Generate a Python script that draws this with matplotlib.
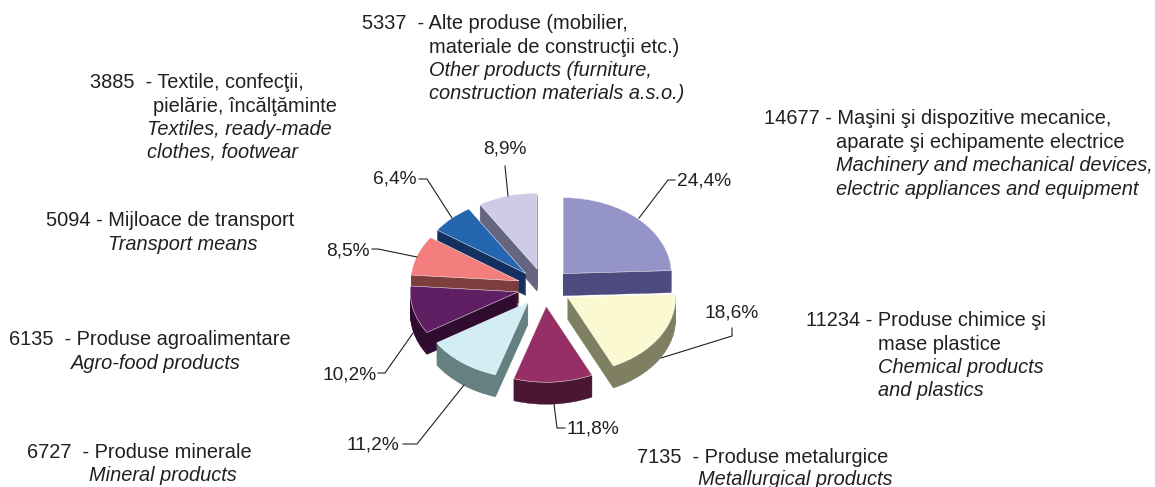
import matplotlib
matplotlib.use("Agg")
import matplotlib.pyplot as plt

values = [14677, 11234, 7135, 6727, 6135, 5094, 3885, 5337]
percents = ["24,4%", "18,6%", "11,8%", "11,2%", "10,2%", "8,5%", "6,4%", "8,9%"]
top_colors = ["#9594c8", "#fbf9d2", "#952f66", "#d2edf4", "#601e63", "#f47e7e", "#2566b0", "#cdcbe6"]
side_colors = ["#4c4a7f", "#7f7f62", "#4a1634", "#648080", "#300c30", "#7f3e3e", "#14305f", "#66657f"]

W, H = 1155, 487
CX, CY, RX, RY, DEPTH = 544.5, 287.3, 108.0, 76.0, 22
EXPLODE = 0.25
PAINT_RANK = [2, 5, 7, 6, 4, 3, 1, 0]
TEXT = "#231f20"
FS = 14.4
FS_PCT = 13.8

plt.rcParams["font.family"] = ["Liberation Sans", "DejaVu Sans"]
fig = plt.figure(figsize=(W / 100, H / 100), dpi=100, facecolor="white")

ax = fig.add_axes([0, 0, 1, 1])
explode = [EXPLODE] * len(values)
for layer in range(DEPTH, -1, -1):
    wedges, _ = ax.pie(values, explode=explode, startangle=90, counterclock=False,
                       radius=1, center=(0, -layer / RY))
    for i, w in enumerate(wedges):
        is_top = layer == 0
        col = top_colors[i] if is_top else side_colors[i]
        w.set_facecolor(col)
        w.set_edgecolor("white" if is_top else col)
        w.set_linewidth(0.35 if is_top else 0.3)
        w.set_zorder(PAINT_RANK[i] * 100 + (DEPTH - layer))
ax.set_aspect("auto")
ax.set_xlim(-CX / RX, (W - CX) / RX)
ax.set_ylim(-(H - CY) / RY, CY / RY)
ax.axis("off")

ov = fig.add_axes([0, 0, 1, 1], facecolor="none")
ov.set_xlim(0, W)
ov.set_ylim(H, 0)
ov.axis("off")

leaders = [
    ([675, 668, 639], [180, 180, 218]),
    ([661, 732, 732], [358, 336, 328]),
    ([554, 557, 565], [404, 428, 428]),
    ([464, 417, 403], [385, 444, 444]),
    ([413, 385, 378], [333, 373, 373]),
    ([417, 378, 372], [257, 249, 249]),
    ([452, 427, 419], [218, 179, 179]),
    ([508, 505], [196, 166]),
]
for xs, ys in leaders:
    ov.plot(xs, ys, color=TEXT, lw=0.8, solid_joinstyle="miter")

pct_pos = [(677, 186), (705, 317), (567, 434), (346, 450), (322, 379),
           (326, 255), (373, 184), (483, 154)]
for s, (x, y) in zip(percents, pct_pos):
    ov.text(x, y, s, fontsize=FS_PCT, color=TEXT, ha="left", va="baseline")

labels = [
    (362, 29, "5337  - Alte produse (mobilier,", "normal"),
    (429, 53, "materiale de construcţii etc.)", "normal"),
    (429, 76, "Other products (furniture,", "italic"),
    (429, 99, "construction materials a.s.o.)", "italic"),
    (90, 88, "3885  - Textile, confecţii,", "normal"),
    (153, 112, "pielărie, încălţăminte", "normal"),
    (147, 135, "Textiles, ready-made", "italic"),
    (147, 158, "clothes, footwear", "italic"),
    (764, 124, "14677 - Maşini şi dispozitive mecanice,", "normal"),
    (836, 148, "aparate şi echipamente electrice", "normal"),
    (836, 171, "Machinery and mechanical devices,", "italic"),
    (836, 195, "electric appliances and equipment", "italic"),
    (46, 226, "5094 - Mijloace de transport", "normal"),
    (108, 250, "Transport means", "italic"),
    (9, 345, "6135  - Produse agroalimentare", "normal"),
    (71, 369, "Agro-food products", "italic"),
    (27, 458, "6727  - Produse minerale", "normal"),
    (89, 481, "Mineral products", "italic"),
    (637, 463, "7135  - Produse metalurgice", "normal"),
    (698, 485, "Metallurgical products", "italic"),
    (806, 326, "11234 - Produse chimice şi", "normal"),
    (878, 350, "mase plastice", "normal"),
    (878, 373, "Chemical products", "italic"),
    (878, 396, "and plastics", "italic"),
]
for x, y, s, style in labels:
    ov.text(x, y, s, fontsize=FS, color=TEXT, style=style, ha="left", va="baseline")

fig.savefig("out.png", dpi=100, facecolor="white")
